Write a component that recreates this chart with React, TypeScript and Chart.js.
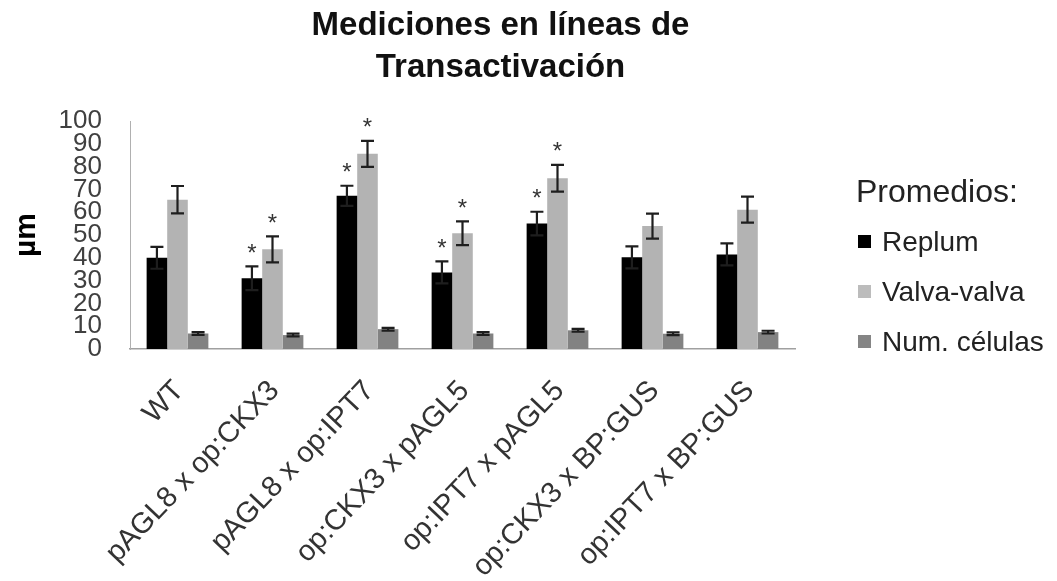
import { useEffect, useRef } from "react";
import { Chart, registerables } from "chart.js";

Chart.register(...registerables);

const categories = [
  "WT",
  "pAGL8 x op:CKX3",
  "pAGL8 x op:IPT7",
  "op:CKX3 x pAGL5",
  "op:IPT7 x pAGL5",
  "op:CKX3 x BP:GUS",
  "op:IPT7 x BP:GUS",
];
const seriesNames = ["Replum", "Valva-valva", "Num. células"];
const replum = [40, 31, 67.2, 33.6, 55, 40.2, 41.5];
const replumErr = [4.8, 5.2, 4.4, 4.8, 5.2, 4.8, 4.8];
const valva = [65.5, 43.7, 85.6, 50.8, 74.9, 53.9, 61.1];
const valvaErr = [6, 5.7, 5.7, 5.2, 5.9, 5.5, 5.7];
const celulas = [6.8, 6.1, 8.7, 6.8, 8.2, 6.7, 7.4];
const celulasErr = [0.6, 0.6, 0.6, 0.6, 0.6, 0.6, 0.6];
const replumSig = [false, true, true, true, true, false, false];
const valvaSig = [false, true, true, true, true, false, false];
const celulasSig = [false, false, false, false, false, false, false];
const yMin = 0;
const yMax = 100;
const yStep = 10;
const titleLines = ["Mediciones en líneas de", "Transactivación"];
const legendTitle = "Promedios:";
const yAxisTitle = "µm";

const colors = ["#000000", "#b3b3b3", "#828282"];
const legendColors = ["#000000", "#bcbcbc", "#858585"];

const overlayPlugin = {
  id: "overlay",
  afterDatasetsDraw(chart: any) {
    const ctx = chart.ctx;
    const y = chart.scales.y;
    chart.data.datasets.forEach((ds: any, di: number) => {
      const meta = chart.getDatasetMeta(di);
      meta.data.forEach((bar: any, i: number) => {
        const v = ds.data[i];
        const e = ds.errors[i];
        const yTop = y.getPixelForValue(v + e);
        const yBot = y.getPixelForValue(v - e);
        ctx.save();
        ctx.strokeStyle = "#1e1e1e";
        ctx.lineWidth = 2.2;
        ctx.beginPath();
        ctx.moveTo(bar.x, yTop);
        ctx.lineTo(bar.x, yBot);
        ctx.moveTo(bar.x - 6.5, yTop);
        ctx.lineTo(bar.x + 6.5, yTop);
        ctx.moveTo(bar.x - 6.5, yBot);
        ctx.lineTo(bar.x + 6.5, yBot);
        ctx.stroke();
        if (ds.sig[i]) {
          ctx.fillStyle = "#333333";
          ctx.font = '24px "Liberation Sans"';
          ctx.textAlign = "center";
          ctx.textBaseline = "middle";
          ctx.fillText("*", bar.x, yTop - 12);
        }
        ctx.restore();
      });
    });
  },
  afterDraw(chart: any) {
    const ctx = chart.ctx;
    ctx.save();
    // title
    ctx.fillStyle = "#111111";
    ctx.font = 'bold 33px "Liberation Sans"';
    ctx.textAlign = "center";
    ctx.textBaseline = "alphabetic";
    ctx.fillText(titleLines[0], 500.5, 35);
    ctx.fillText(titleLines[1], 500.5, 77);
    // legend
    ctx.textAlign = "left";
    ctx.fillStyle = "#222222";
    ctx.font = '32px "Liberation Sans"';
    ctx.fillText(legendTitle, 856, 202);
    ctx.font = '28px "Liberation Sans"';
    chart.data.datasets.forEach((ds: any, i: number) => {
      const base = 251 + i * 50;
      ctx.fillStyle = legendColors[i];
      ctx.fillRect(858, base - 16, 13, 13);
      ctx.fillStyle = "#222222";
      ctx.fillText(ds.label, 882, base);
    });
    ctx.restore();
  },
};

export default function App() {
  const canvasRef = useRef<HTMLCanvasElement | null>(null);

  useEffect(() => {
    document.body.style.margin = "0";
    const canvas = canvasRef.current;
    if (!canvas) return;
    const chart = new Chart(canvas, {
      type: "bar",
      data: {
        labels: categories,
        datasets: [
          { label: seriesNames[0], data: replum, errors: replumErr, sig: replumSig, backgroundColor: colors[0] } as any,
          { label: seriesNames[1], data: valva, errors: valvaErr, sig: valvaSig, backgroundColor: colors[1] } as any,
          { label: seriesNames[2], data: celulas, errors: celulasErr, sig: celulasSig, backgroundColor: colors[2] } as any,
        ],
      },
      options: {
        responsive: false,
        animation: false,
        devicePixelRatio: 1,
        layout: { padding: { top: 121, right: 262, left: 0, bottom: 0 } },
        datasets: { bar: { categoryPercentage: 0.65, barPercentage: 1.0 } },
        plugins: {
          legend: { display: false },
          title: { display: false },
          tooltip: { enabled: false },
        },
        scales: {
          x: {
            grid: { display: false, drawTicks: false },
            border: { display: true, color: "#a0a0a0", width: 1.5 },
            ticks: {
              autoSkip: false,
              maxRotation: 46.5,
              minRotation: 46.5,
              labelOffset: 2,
              padding: 25,
              color: "#333333",
              font: { family: "Liberation Sans", size: 29 },
            },
            afterFit: (scale: any) => {
              scale.height = 232;
            },
          },
          y: {
            min: yMin,
            max: yMax,
            grid: { display: false, drawTicks: false },
            border: { display: true, color: "#b0b0b0", width: 1 },
            ticks: {
              stepSize: yStep,
              autoSkip: false,
              padding: 28,
              color: "#404040",
              font: { family: "Liberation Sans", size: 26 },
            },
            title: {
              display: true,
              text: yAxisTitle,
              color: "#000000",
              font: { family: "Liberation Sans", size: 30, weight: "bold" },
              padding: { top: 9, bottom: 0 },
            },
            afterFit: (scale: any) => {
              scale.width = 130;
            },
          },
        },
      },
      plugins: [overlayPlugin],
    } as any);
    return () => chart.destroy();
  }, []);

  return (
    <div style={{ width: 1057, height: 581 }}>
      <canvas ref={canvasRef} width={1057} height={581} />
    </div>
  );
}
